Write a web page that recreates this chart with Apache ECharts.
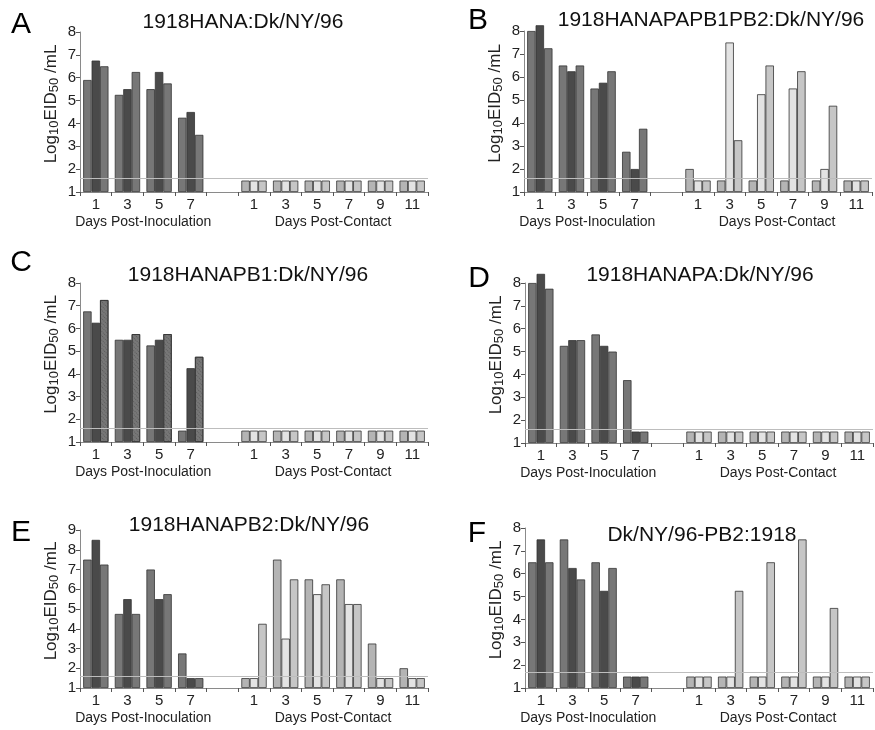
<!DOCTYPE html>
<html><head><meta charset="utf-8">
<script src="https://cdn.jsdelivr.net/npm/echarts@6/dist/echarts.min.js"></script>
<style>html,body{margin:0;padding:0;background:#fff}#c{width:875px;height:730px}</style>
</head><body><div id="c"></div>
<script>
// ---- data ----
const categories = ['1', '3', '5', '7', '', '1', '3', '5', '7', '9', '11'];
const groupLabels = ['Days Post-Inoculation', 'Days Post-Contact'];
const panelLetters = ['A', 'B', 'C', 'D', 'E', 'F'];
const panelTitles = ['1918HANA:Dk/NY/96', '1918HANAPAPB1PB2:Dk/NY/96', '1918HANAPB1:Dk/NY/96',
  '1918HANAPA:Dk/NY/96', '1918HANAPB2:Dk/NY/96', 'Dk/NY/96-PB2:1918'];
const yAxisMin = 1;
const yTicksMax = [8, 8, 8, 8, 9, 8];
const detectionLimit = [1.6, 1.6, 1.6, 1.6, 1.6, 1.7];

const A_bird1 = [5.9, 5.25, 5.5, 4.25, null, 1.5, 1.5, 1.5, 1.5, 1.5, 1.5];
const A_bird2 = [6.75, 5.5, 6.25, 4.5, null, 1.5, 1.5, 1.5, 1.5, 1.5, 1.5];
const A_bird3 = [6.5, 6.25, 5.75, 3.5, null, 1.5, 1.5, 1.5, 1.5, 1.5, 1.5];

const B_bird1 = [8.0, 6.5, 5.5, 2.75, null, 2.0, 1.5, 1.5, 1.5, 1.5, 1.5];
const B_bird2 = [8.25, 6.25, 5.75, 2.0, null, 1.5, 7.5, 5.25, 5.5, 2.0, 1.5];
const B_bird3 = [7.25, 6.5, 6.25, 3.75, null, 1.5, 3.25, 6.5, 6.25, 4.75, 1.5];

const C_bird1 = [6.75, 5.5, 5.25, 1.5, null, 1.5, 1.5, 1.5, 1.5, 1.5, 1.5];
const C_bird2 = [6.25, 5.5, 5.5, 4.25, null, 1.5, 1.5, 1.5, 1.5, 1.5, 1.5];
const C_bird3 = [7.25, 5.75, 5.75, 4.75, null, 1.5, 1.5, 1.5, 1.5, 1.5, 1.5];

const D_bird1 = [8.0, 5.25, 5.75, 3.75, null, 1.5, 1.5, 1.5, 1.5, 1.5, 1.5];
const D_bird2 = [8.4, 5.5, 5.25, 1.5, null, 1.5, 1.5, 1.5, 1.5, 1.5, 1.5];
const D_bird3 = [7.75, 5.5, 5.0, 1.5, null, 1.5, 1.5, 1.5, 1.5, 1.5, 1.5];

const E_bird1 = [7.5, 4.75, 7.0, 2.75, null, 1.5, 7.5, 6.5, 6.5, 3.25, 2.0];
const E_bird2 = [8.5, 5.5, 5.5, 1.5, null, 1.5, 3.5, 5.75, 5.25, 1.5, 1.5];
const E_bird3 = [7.25, 4.75, 5.75, 1.5, null, 4.25, 6.5, 6.25, 5.25, 1.5, 1.5];

const F_bird1 = [6.5, 7.5, 6.5, 1.5, null, 1.5, 1.5, 1.5, 1.5, 1.5, 1.5];
const F_bird2 = [7.5, 6.25, 5.25, 1.5, null, 1.5, 1.5, 1.5, 1.5, 1.5, 1.5];
const F_bird3 = [6.5, 5.75, 6.25, 1.5, null, 1.5, 5.25, 6.5, 7.5, 4.5, 1.5];

const panelData = [
  [A_bird1, A_bird2, A_bird3], [B_bird1, B_bird2, B_bird3], [C_bird1, C_bird2, C_bird3],
  [D_bird1, D_bird2, D_bird3], [E_bird1, E_bird2, E_bird3], [F_bird1, F_bird2, F_bird3]
];

// ---- layout / style ----
const FONT = '"Liberation Sans", Arial, sans-serif';
const grids = [
  { left: 80, top: 32, width: 348, height: 160 },
  { left: 524, top: 31, width: 348, height: 161 },
  { left: 80, top: 283, width: 348, height: 159 },
  { left: 525, top: 283, width: 348, height: 160 },
  { left: 80, top: 530, width: 348, height: 158 },
  { left: 525, top: 528, width: 348, height: 160 }
];
const titlePos = [[243, 22], [711, 20], [248, 275], [700, 275], [249, 525], [702, 535]];
const letterPos = [[21, 25], [478, 21], [21, 263], [479, 279], [21, 533], [477, 534]];
const inocColors = ['#777777', '#4a4a4a', '#777777'];
const contactColors = ['#b4b4b4', '#e3e3e3', '#c6c6c6'];
const hatch = {
  symbol: 'rect', symbolSize: 1, color: 'rgba(40,40,40,0.35)',
  dashArrayX: [1, 1], dashArrayY: [1, 2], rotation: Math.PI / 4
};

const chart = echarts.init(document.getElementById('c'), null, { renderer: 'canvas' });

const option = {
  backgroundColor: '#fff',
  animation: false,
  textStyle: { fontFamily: FONT },
  grid: grids.map(g => Object.assign({ containLabel: false }, g)),
  xAxis: grids.map((g, i) => ({
    type: 'category', gridIndex: i, data: categories,
    axisLine: { lineStyle: { color: '#8a8a8a', width: 1 } },
    axisTick: { show: true, interval: 0, length: 4, lineStyle: { color: '#555' } },
    axisLabel: { interval: 0, color: '#222', fontSize: 15, fontFamily: FONT, margin: 5 },
    splitLine: { show: false }
  })),
  yAxis: grids.map((g, i) => ({
    type: 'value', gridIndex: i, min: yAxisMin, max: yTicksMax[i], interval: 1,
    axisLine: { show: true, lineStyle: { color: '#8a8a8a', width: 1 } },
    axisTick: { show: true, length: 4, lineStyle: { color: '#555' } },
    axisLabel: { color: '#222', fontSize: 15, fontFamily: FONT, margin: 4 },
    splitLine: { show: false },
    name: '{n0|Log}{s|10}{n|EID}{s|50}{n| /mL}',
    nameLocation: 'middle', nameGap: 19, nameRotate: 90,
    nameTextStyle: {
      color: '#222', fontFamily: FONT,
      rich: {
        n0: { fontSize: 17, lineHeight: 20, fontFamily: FONT, color: '#222', padding: [0, 0, 0, 16] },
        n: { fontSize: 17, lineHeight: 20, fontFamily: FONT, color: '#222' },
        s: { fontSize: 13, lineHeight: 10, verticalAlign: 'bottom', fontFamily: FONT, color: '#222' }
      }
    }
  })),
  series: [],
  graphic: []
};

panelData.forEach((birds, p) => {
  birds.forEach((vals, b) => {
    const stackId = 'p' + p + 'b' + b;
    // invisible base from 0 up to the axis minimum, so the visible bar starts at the axis
    option.series.push({
      type: 'bar', xAxisIndex: p, yAxisIndex: p, stack: stackId, silent: true,
      barGap: '0%', barCategoryGap: '20%', clip: true,
      itemStyle: { color: 'rgba(0,0,0,0)', borderWidth: 0 },
      data: vals.map(v => (v == null ? null : yAxisMin))
    });
    option.series.push({
      type: 'bar', xAxisIndex: p, yAxisIndex: p, stack: stackId, clip: false,
      barGap: '0%', barCategoryGap: '20%',
      data: vals.map((v, k) => {
        const style = { color: k < 4 ? inocColors[b] : contactColors[b], borderColor: '#333', borderWidth: 0.8 };
        if (p === 2 && b === 2 && k < 4) style.decal = hatch;
        return { value: v == null ? null : v - yAxisMin, itemStyle: style };
      }),
      markLine: b === 0 ? {
        silent: true, symbol: 'none', label: { show: false },
        lineStyle: { color: '#bdbdbd', width: 1, type: 'solid' },
        data: [{ yAxis: detectionLimit[p] }]
      } : undefined
    });
  });
  option.graphic.push({
    type: 'text', x: titlePos[p][0], y: titlePos[p][1],
    style: { text: panelTitles[p], font: '21px ' + FONT, fill: '#111', align: 'center', verticalAlign: 'middle' }
  });
  option.graphic.push({
    type: 'text', x: letterPos[p][0], y: letterPos[p][1],
    style: { text: panelLetters[p], font: '30px ' + FONT, fill: '#000', align: 'center', verticalAlign: 'middle' }
  });
});

chart.setOption(option);

// group labels under the category axis, centred on their category ranges
const extra = [];
grids.forEach((g, p) => {
  const x0 = chart.convertToPixel({ xAxisIndex: p }, 0);
  const x3 = chart.convertToPixel({ xAxisIndex: p }, 3);
  const x5 = chart.convertToPixel({ xAxisIndex: p }, 5);
  const x10 = chart.convertToPixel({ xAxisIndex: p }, 10);
  const yBase = g.top + g.height + 30;
  extra.push({
    type: 'text', x: (x0 + x3) / 2, y: yBase,
    style: { text: groupLabels[0], font: '14px ' + FONT, fill: '#222', align: 'center', verticalAlign: 'middle' }
  });
  extra.push({
    type: 'text', x: (x5 + x10) / 2, y: yBase,
    style: { text: groupLabels[1], font: '14px ' + FONT, fill: '#222', align: 'center', verticalAlign: 'middle' }
  });
});
chart.setOption({ graphic: option.graphic.concat(extra) });
</script></body></html>
